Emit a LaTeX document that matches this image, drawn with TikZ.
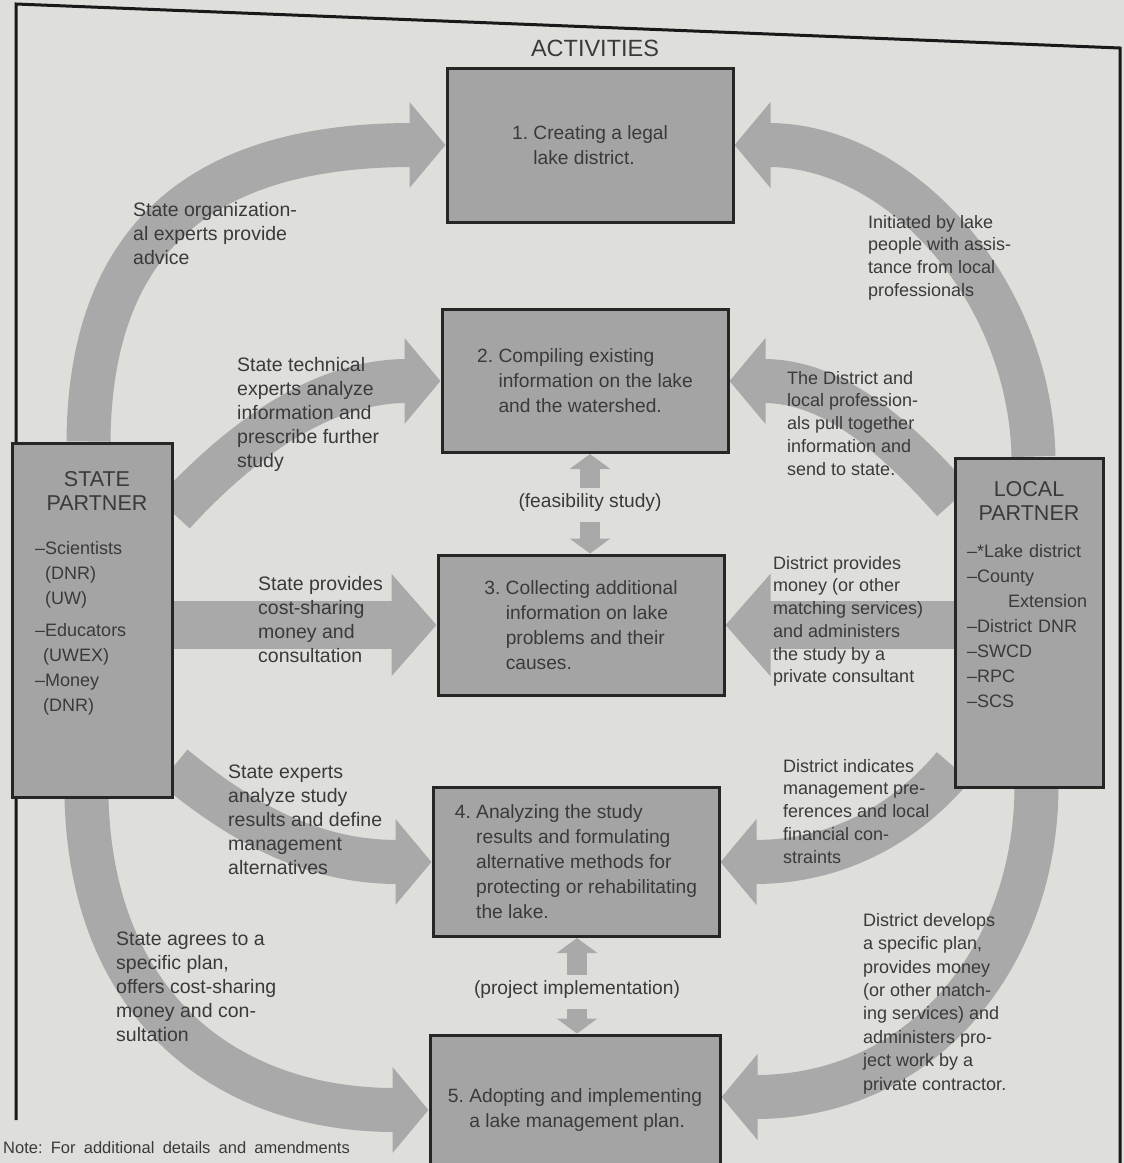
\documentclass[tikz,border=0pt]{standalone}
\usepackage{fontspec}
\setmainfont{Liberation Sans}
\usepackage{tikz}
\usetikzlibrary{arrows.meta,calc}
\definecolor{papier}{HTML}{DEDFDB}
\definecolor{boite}{HTML}{A4A4A4}
\definecolor{bande}{HTML}{A9A9A9}
\definecolor{encre}{HTML}{3A3A3A}
\pgfdeclarelayer{fond}
\pgfdeclarelayer{bandes}
\pgfsetlayers{fond,bandes,main}
\newcommand{\Ret}{\hphantom{0.~}}
\tikzset{
ActBox/.style={
 draw=black!85,
 fill=boite,
 line width=3pt,
 minimum width=286pt,
 inner sep=0pt,
 align=left,
 text=encre,
 font=\fontsize{19.2}{25}\selectfont
 },
PartnerBox/.style={
 draw=black!85,
 fill=boite,
 line width=3pt,
 inner sep=0pt
 },
PartnerTitle/.style={
 align=center,
 inner sep=0pt,
 text=encre,
 font=\fontsize{21.5}{24}\selectfont
 },
PartnerList/.style={
 anchor=north west,
 align=left,
 inner sep=0pt,
 text=encre,
 font=\fontsize{18}{25}\selectfont
 },
LeftText/.style={
 anchor=north west,
 align=left,
 inner sep=0pt,
 text=encre,
 font=\fontsize{19.5}{24}\selectfont
 },
RightText/.style={
 anchor=north west,
 align=left,
 inner sep=0pt,
 text=encre,
 font=\fontsize{18}{22.7}\selectfont
 },
MidText/.style={
 inner sep=0pt,
 text=encre,
 font=\fontsize{19.2}{24}\selectfont
 },
BigArrow/.style={
 draw=bande,
 line width=44pt,
 -{Triangle[length=36pt,width=84pt]}
 },
FlatArrow/.style={
 draw=bande,
 line width=48pt,
 -{Triangle[length=45pt,width=100pt]}
 },
SmallArrow/.style={
 draw=bande,
 line width=20pt,
 -{Triangle[length=15pt,width=40pt]}
 },
Cadre/.style={
 draw=black!90,
 line width=3pt
 }
}

\begin{document}
\begin{tikzpicture}[x=1pt,y=-1pt]
\useasboundingbox (0,0) rectangle (1124,1163);
\begin{pgfonlayer}{fond}
\fill[papier] (0,0) rectangle (1124,1163);
\draw[Cadre] (16,1120) -- (16,4) -- (1120,48) -- (1120,1163);
\end{pgfonlayer}

% activities
\node[MidText,font=\fontsize{23.5}{26}\selectfont] (titre) at (595,48) {ACTIVITIES};
\node[ActBox,minimum height=154pt] (act1) at (590,145) {1.~Creating a legal\\\Ret lake district.};
\node[ActBox,minimum height=143pt] (act2) at (585,381) {2.~Compiling existing\\\Ret information on the lake\\\Ret and the watershed.};
\node[ActBox,minimum height=140pt] (act3) at (581,625) {3.~Collecting additional\\\Ret information on lake\\\Ret problems and their\\\Ret causes.};
\node[ActBox,minimum height=149pt] (act4) at (576,862) {4.~Analyzing the study\\\Ret results and formulating\\\Ret alternative methods for\\\Ret protecting or rehabilitating\\\Ret the lake.};
\node[ActBox,minimum height=150pt,minimum width=290pt] (act5) at (575,1110) {5.~Adopting and implementing\\\Ret a lake management plan.};

% partners
\node[PartnerBox,minimum width=160pt,minimum height=354pt] (state) at (92,620) {};
\node[PartnerTitle] (statetitle) at ($(state.north)+(5,49)$) {STATE\\PARTNER};
\node[PartnerList] (statelist) at (35,541) {\textendash Scientists\\\hspace*{10pt}(DNR)\\\hspace*{10pt}(UW)\\[7pt]\textendash Educators\\\hspace*{8pt}(UWEX)\\\textendash Money\\\hspace*{8pt}(DNR)};
\node[PartnerBox,minimum width=148pt,minimum height=329pt] (local) at (1029,622.5) {};
\node[PartnerTitle] (localtitle) at ($(local.north)+(0,44)$) {LOCAL\\PARTNER};
\node[PartnerList,text width=120pt] (locallist) at (967,544) {\textendash *Lake district\\\textendash County\\\hspace*{\fill}Extension\\\textendash District DNR\\\textendash SWCD\\\textendash RPC\\\textendash SCS};

% state side
\node[LeftText] (orgtext) at (133,202) {State organization-\\al experts provide\\advice};
\node[LeftText] (techtext) at (237,357) {State technical\\experts analyze\\information and\\prescribe further\\study};
\node[LeftText] (costtext) at (258,576) {State provides\\cost-sharing\\money and\\consultation};
\node[LeftText] (experttext) at (228,765) {State experts\\analyze study\\results and define\\management\\alternatives};
\node[LeftText] (agreetext) at (116,932) {State agrees to a\\specific plan,\\offers cost-sharing\\money and con-\\sultation};

% local side
\node[RightText] (inittext) at (868,215) {Initiated by lake\\people with assis-\\tance from local\\professionals};
\node[RightText] (disttext) at (787,371) {The District and\\local profession-\\als pull together\\information and\\send to state.};
\node[RightText] (provtext) at (773,556) {District provides\\money (or other\\matching services)\\and administers\\the study by a\\private consultant};
\node[RightText] (indictext) at (783,759) {District indicates\\management pre-\\ferences and local\\financial con-\\straints};
\node[RightText,font=\fontsize{18}{23.4}\selectfont] (devtext) at (863,913) {District develops\\a specific plan,\\provides money\\(or other match-\\ing services) and\\administers pro-\\ject work by a\\private contractor.};

\node[MidText] (feas) at (590,503) {(feasibility study)};
\node[MidText] (impl) at (577,990) {(project implementation)};
\node[MidText,anchor=west,font=\fontsize{16.5}{18}\selectfont] (note) at (3,1148) {Note:\enspace For\enspace additional\enspace details\enspace and\enspace amendments};

\begin{pgfonlayer}{bandes}
\draw[BigArrow] ($(state.north west)+(78,0)$) .. controls (90,240) and (200,145) .. (act1.west);
\draw[BigArrow] ($(state.north east)+(0,72)$) .. controls (250,430) and (330,381) .. (act2.west);
\draw[FlatArrow] (state.east |- act3.west) -- (act3.west);
\draw[BigArrow] ($(state.south east)+(0,-32)$) .. controls (250,830) and (320,862) .. (act4.west);
\draw[BigArrow] ($(state.south west)+(76,0)$) .. controls (92,1010) and (230,1110) .. (act5.west);
\draw[BigArrow] ($(local.north west)+(80,0)$) .. controls (1030,290) and (900,145) .. (act1.east);
\draw[BigArrow] ($(local.north west)+(0,45)$) .. controls (890,430) and (830,381) .. (act2.east);
\draw[FlatArrow] (local.west |- act3.east) -- (act3.east);
\draw[BigArrow] ($(local.south west)+(0,-22)$) .. controls (900,830) and (830,862) .. (act4.east);
\draw[BigArrow] ($(local.south west)+(83,0)$) .. controls (1035,960) and (920,1097) .. ($(act5.east)+(0,-13)$);
\draw[SmallArrow,shorten <=6pt] (feas.north) -- (feas.north |- act2.south);
\draw[SmallArrow,shorten <=10pt] (feas.south) -- (feas.south |- act3.north);
\draw[SmallArrow,shorten <=6pt] (impl.north) -- (impl.north |- act4.south);
\draw[SmallArrow,shorten <=10pt] (impl.south) -- (impl.south |- act5.north);
\end{pgfonlayer}
\end{tikzpicture}
\end{document}
